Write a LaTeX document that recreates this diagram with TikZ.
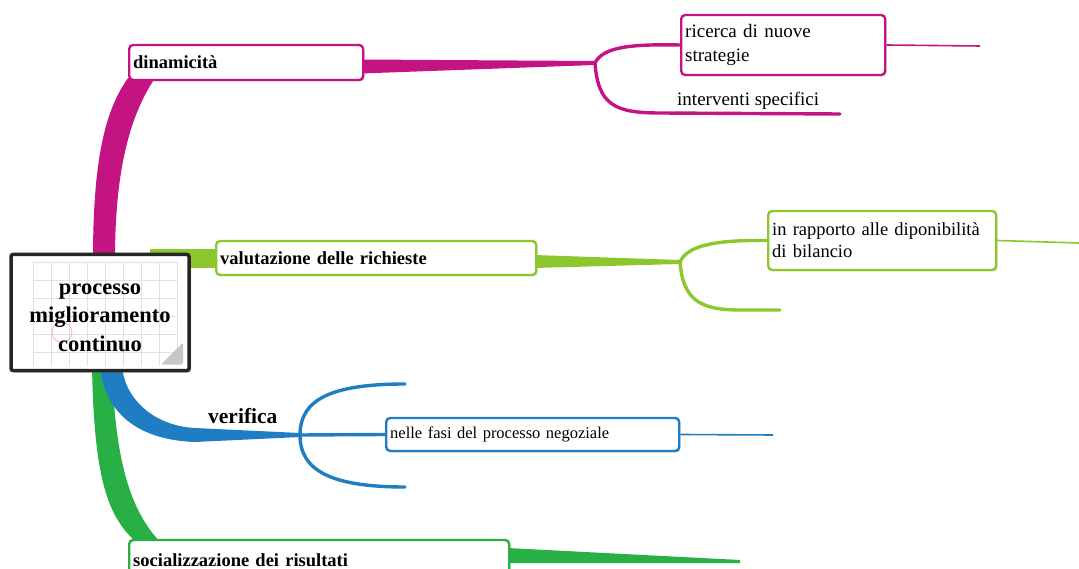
\documentclass[tikz,border=0pt]{standalone}
\usepackage{fontspec}
\setmainfont{Liberation Serif}
\usetikzlibrary{calc,backgrounds,shadows}

\definecolor{mapMagenta}{RGB}{196,20,132}
\definecolor{mapLime}{RGB}{140,200,45}
\definecolor{mapBlue}{RGB}{30,125,195}
\definecolor{mapGreen}{RGB}{40,175,70}

\begin{document}
\begin{tikzpicture}[x=1pt, y=-1pt,
  topic/.style={draw=#1, line width=2.4pt, rounded corners=4pt, fill=white,
    inner xsep=4pt, inner ysep=0pt, align=left, anchor=west,
    drop shadow={shadow xshift=1.5pt, shadow yshift=-1.5pt, opacity=0.25}},
  boldtext/.style={font=\fontsize{18.5}{22}\selectfont\bfseries},
  plaintext/.style={font=\fontsize{19}{23.5}\selectfont},
  twig/.style={draw=#1, line width=3.4pt, line cap=round},
  thread/.style={draw=#1, line width=1.6pt},
  hubbox/.style={draw=black!85, line width=3.5pt, rounded corners=2pt, fill=white,
    minimum width=178pt, minimum height=116pt, align=center,
    font=\fontsize{22.5}{28.5}\selectfont\bfseries,
    drop shadow={shadow xshift=2pt, shadow yshift=-2pt, opacity=0.35},
    path picture={
      \foreach \k in {0,...,8}
        \draw[black!12, line width=0.6pt] ($(path picture bounding box.north west)+(22+18*\k,7.5)$) -- ++(0,104);
      \foreach \k in {0,...,5}
        \draw[black!12, line width=0.6pt] ($(path picture bounding box.north west)+(22,7.5+18*\k)$) -- ++(144,0);
      \draw[red!30, line width=0.8pt] ($(path picture bounding box.north west)+(51,78)$) circle (10);
      \fill[black!22] ($(path picture bounding box.north west)+(150,110)$) -- ++(22,-22) -- ++(0,22) -- cycle;
    }}]

\useasboundingbox (0,0) rectangle (1079,569);

\node[hubbox] (hub) at (100,312.5) {\rule{0pt}{21pt}processo\\miglioramento\\continuo};

\node[topic=mapMagenta, boldtext, text width=226pt, minimum height=35pt] (dina) at (128,62.5) {dinamicità};
\node[topic=mapMagenta, plaintext, text width=196pt, minimum height=60pt] (ricerca) at (680,45) {ricerca di nuove\\strategie};
\node[plaintext, anchor=base west, inner sep=0pt] (interv) at (677,106) {interventi specifici};

\node[topic=mapLime, boldtext, text width=312pt, minimum height=34pt] (valut) at (215,258) {valutazione delle richieste};
\node[topic=mapLime, font=\fontsize{18.5}{22}\selectfont, text width=220pt, minimum height=59pt] (rapporto) at (767,240.5) {in rapporto alle diponibilità\\di bilancio};

\node[font=\fontsize{21.5}{24}\selectfont\bfseries, anchor=base west, inner sep=0pt] (verif) at (208,423) {verifica};
\node[topic=mapBlue, font=\fontsize{16.5}{20}\selectfont, text width=285pt, minimum height=33pt] (nelle) at (385,434.5) {nelle fasi del processo negoziale};

\node[topic=mapGreen, boldtext, text width=372pt, minimum height=40pt] (social) at (128,560) {socializzazione dei risultati};

\coordinate (fkA) at (595,63);
\coordinate (fkB) at (680,262);
\coordinate (fkC) at (300,435);
\coordinate (endA1) at (840,114);
\coordinate (endA2) at (980,46);
\coordinate (endB1) at (780,310);
\coordinate (endB2) at (1079,243);
\coordinate (endC1) at (405,384);
\coordinate (endC2) at (405,487);
\coordinate (endC3) at (773,435);
\coordinate (endD) at (740,562);

\begin{scope}[on background layer]
\fill[mapMagenta] ($(hub.north)+(-7,6)$) .. controls (93,160) and (105,110) .. ($(dina.south west)+(0,-3)$)
  -- ($(dina.south west)+(27,-3)$) .. controls (130,115) and (115,170) .. ($(hub.north)+(15,6)$) -- cycle;
\fill[mapMagenta] ($(dina.east)+(-3,-3)$) -- ($(fkA)+(0,-2)$) -- ($(fkA)+(0,2)$) -- ($(dina.east)+(-3,11)$) -- cycle;
\draw[twig=mapMagenta] (fkA) .. controls (603,47) and (630,44) .. (ricerca.west);
\draw[twig=mapMagenta] (fkA) .. controls (598,105) and (615,113) .. (660,113) -- (endA1);
\draw[thread=mapMagenta] (ricerca.east) -- (endA2);

\fill[mapLime] (150,249) rectangle ($(valut.west)+(3,10)$);
\fill[mapLime] ($(valut.east)+(-3,-3)$) -- ($(fkB)+(0,-2)$) -- ($(fkB)+(0,2)$) -- ($(valut.east)+(-3,10)$) -- cycle;
\draw[twig=mapLime] (fkB) .. controls (688,244) and (720,240) .. (rapporto.west);
\draw[twig=mapLime] (fkB) .. controls (683,300) and (700,310) .. (740,310) -- (endB1);
\draw[thread=mapLime] (rapporto.east) -- (endB2);

\fill[mapGreen] ($(hub.south)+(-8,-6)$) .. controls (94,470) and (105,515) .. ($(social.north west)+(8,3)$)
  -- ($(social.north west)+(32,3)$) .. controls (130,510) and (115,460) .. ($(hub.south)+(12,-6)$) -- cycle;
\fill[mapGreen] ($(social.east)+(-3,-12)$) -- ($(endD)+(0,-2)$) -- ($(endD)+(0,1)$) -- ($(social.east)+(-3,3)$) -- cycle;

\fill[mapBlue] ($(hub.south)+(0,-6)$) .. controls (105,415) and (140,440) .. (195,442) -- ($(fkC)+(0,2)$)
  -- ($(fkC)+(0,-2)$) -- (195,428) .. controls (155,426) and (125,400) .. ($(hub.south)+(22,-6)$) -- cycle;
\draw[twig=mapBlue] (fkC) .. controls (300,400) and (330,384) .. (endC1);
\draw[twig=mapBlue] (fkC) .. controls (300,470) and (330,487) .. (endC2);
\draw[twig=mapBlue] (fkC) -- (nelle.west);
\draw[thread=mapBlue] (nelle.east) -- (endC3);
\end{scope}

\end{tikzpicture}
\end{document}
